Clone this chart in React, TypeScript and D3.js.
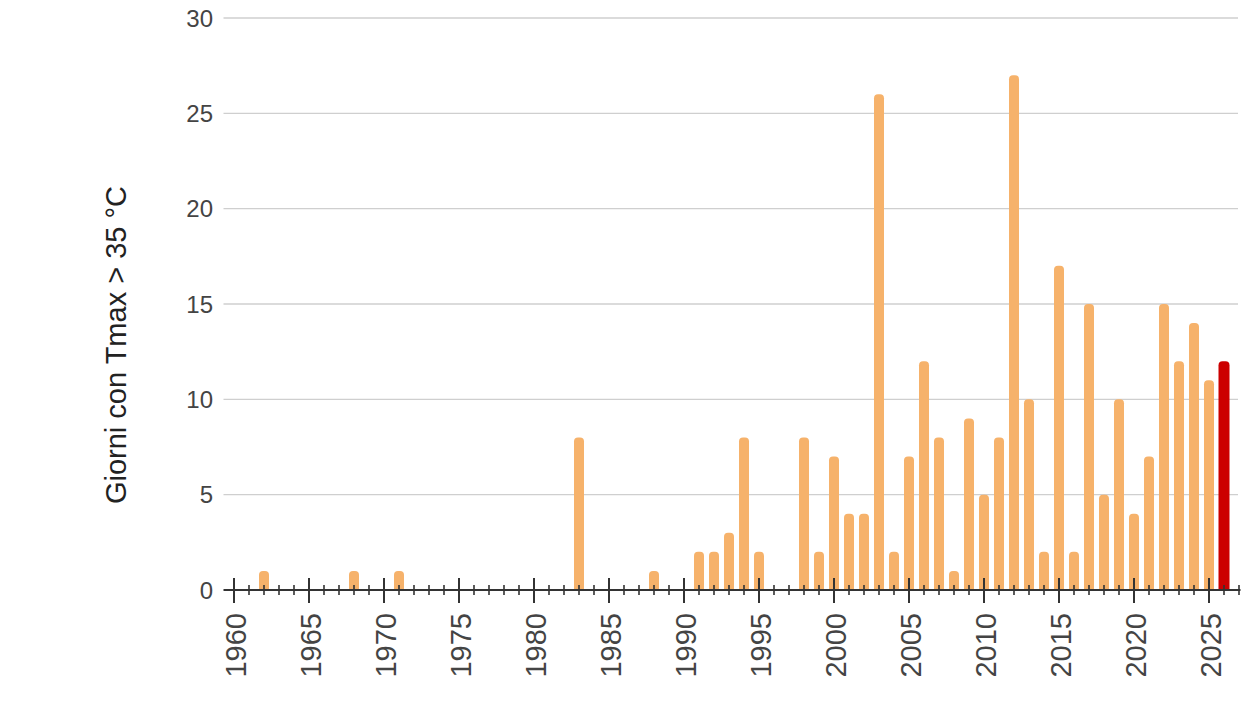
import React from "react";
import * as d3 from "d3";

const years: number[] = [
  1962, 1968, 1971, 1983, 1988, 1991, 1992, 1993, 1994, 1995, 1998, 1999, 2000,
  2001, 2002, 2003, 2004, 2005, 2006, 2007, 2008, 2009, 2010, 2011, 2012, 2013,
  2014, 2015, 2016, 2017, 2018, 2019, 2020, 2021, 2022, 2023, 2024, 2025, 2026,
];
const days: number[] = [
  1, 1, 1, 8, 1, 2, 2, 3, 8, 2, 8, 2, 7,
  4, 4, 26, 2, 7, 12, 8, 1, 9, 5, 8, 27, 10,
  2, 17, 2, 15, 5, 10, 4, 7, 15, 12, 14, 11, 12,
];
const highlightYear = 2026;
const yTicks: number[] = [0, 5, 10, 15, 20, 25, 30];
const xLabelYears: number[] = [1960, 1965, 1970, 1975, 1980, 1985, 1990, 1995, 2000, 2005, 2010, 2015, 2020, 2025];
const yTitle = "Giorni con Tmax > 35 °C";

const W = 1260;
const H = 708;
const FONT = "'Liberation Sans', Arial, sans-serif";

export default function App() {
  const x = d3.scaleLinear().domain([1960, 2026]).range([234, 1224]);
  const y = d3.scaleLinear().domain([0, 30]).range([590, 18]);
  const axisStart = x(1959.3);
  const axisEnd = x(2027.1);
  const allTicks = d3.range(1960, 2028);
  const barW = 10;
  const r = 4;

  const barPath = (cx: number, v: number, w: number) => {
    const x0 = cx - w / 2;
    const x1 = cx + w / 2;
    const y0 = y(0);
    const yt = y(v);
    const rr = Math.min(r, (y0 - yt) / 1.2, w / 2);
    return `M${x0},${y0} L${x0},${yt + rr} Q${x0},${yt} ${x0 + rr},${yt} L${x1 - rr},${yt} Q${x1},${yt} ${x1},${yt + rr} L${x1},${y0} Z`;
  };

  return (
    <svg width={W} height={H} style={{ position: "absolute", left: 0, top: 0, background: "#fff" }}>
      <rect x={0} y={0} width={W} height={H} fill="#fff" />
      {yTicks.map((t) => (
        <g key={"g" + t}>
          {t > 0 && (
            <line x1={axisStart} x2={1238} y1={y(t)} y2={y(t)} stroke="#cfcfcf" strokeWidth={1.3} />
          )}
          <text
            x={213}
            y={y(t)}
            textAnchor="end"
            dominantBaseline="central"
            fontFamily={FONT}
            fontSize={24}
            fill="#444"
          >
            {t}
          </text>
        </g>
      ))}
      <text
        transform={`translate(116,${(y(0) + y(30)) / 2 + 41}) rotate(-90)`}
        textAnchor="middle"
        dominantBaseline="central"
        fontFamily={FONT}
        fontSize={29}
        fill="#222"
      >
        {yTitle}
      </text>
      {years.map((yr, i) => (
        <path
          key={yr}
          d={barPath(x(yr), days[i], yr === highlightYear ? barW + 1 : barW)}
          fill={yr === highlightYear ? "#cc0000" : "#f6b26b"}
        />
      ))}
      <line x1={axisStart} x2={axisEnd} y1={y(0)} y2={y(0)} stroke="#333" strokeWidth={2.2} />
      {allTicks.map((t) => {
        const major = t % 5 === 0;
        return (
          <line
            key={"t" + t}
            x1={x(t)}
            x2={x(t)}
            y1={y(0) - (major ? 12 : 5)}
            y2={y(0) + (major ? 13 : 5)}
            stroke="#333"
            strokeWidth={major ? 2 : 1.6}
          />
        );
      })}
      {xLabelYears.map((t) => (
        <text
          key={"l" + t}
          transform={`translate(${x(t) + 2},613) rotate(-90)`}
          textAnchor="end"
          dominantBaseline="central"
          fontFamily={FONT}
          fontSize={29}
          fill="#444"
        >
          {t}
        </text>
      ))}
    </svg>
  );
}
